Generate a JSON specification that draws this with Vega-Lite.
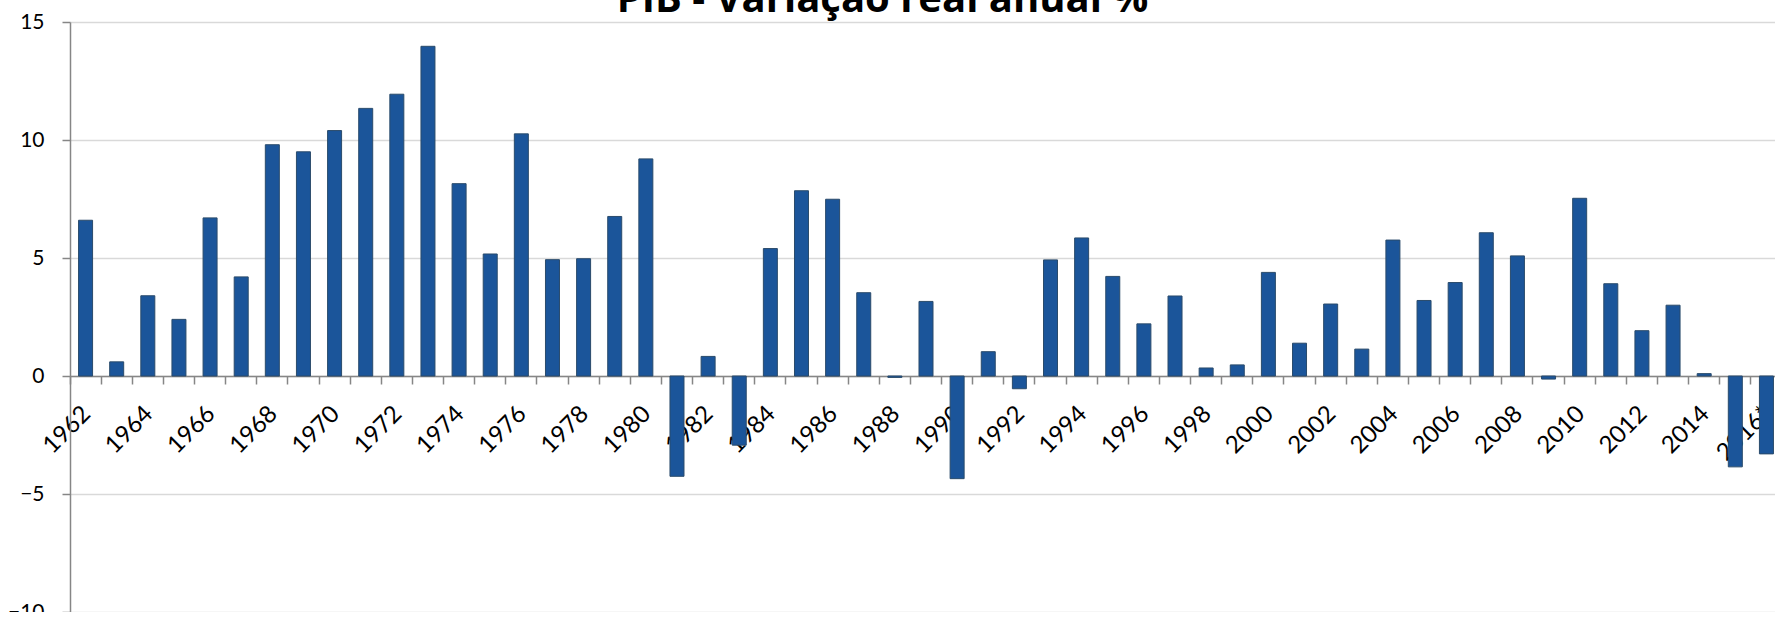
{
  "$schema": "https://vega.github.io/schema/vega-lite/v6.json",
  "autosize": {"type": "none"},
  "padding": {"left": 70, "top": 22, "right": 0, "bottom": 0},
  "width": 1705,
  "height": 590,
  "background": "white",
  "title": {
    "text": "PIB - Variação real anual %",
    "font": "Open Sans",
    "fontWeight": "bold",
    "fontSize": 40,
    "color": "#000000",
    "anchor": "middle",
    "frame": "group",
    "baseline": "alphabetic",
    "offset": -41,
    "dx": -40
  },
  "config": {
    "view": {"stroke": null},
    "axis": {"labelFont": "Lato", "labelColor": "#000000"}
  },
  "data": {
    "values": [
      {"ano": "1962", "pib": 6.6}, {"ano": "1963", "pib": 0.6}, {"ano": "1964", "pib": 3.4},
      {"ano": "1965", "pib": 2.4}, {"ano": "1966", "pib": 6.7}, {"ano": "1967", "pib": 4.2},
      {"ano": "1968", "pib": 9.8}, {"ano": "1969", "pib": 9.5}, {"ano": "1970", "pib": 10.4},
      {"ano": "1971", "pib": 11.34}, {"ano": "1972", "pib": 11.94}, {"ano": "1973", "pib": 13.97},
      {"ano": "1974", "pib": 8.15}, {"ano": "1975", "pib": 5.17}, {"ano": "1976", "pib": 10.26},
      {"ano": "1977", "pib": 4.93}, {"ano": "1978", "pib": 4.97}, {"ano": "1979", "pib": 6.76},
      {"ano": "1980", "pib": 9.2}, {"ano": "1981", "pib": -4.25}, {"ano": "1982", "pib": 0.83},
      {"ano": "1983", "pib": -2.93}, {"ano": "1984", "pib": 5.4}, {"ano": "1985", "pib": 7.85},
      {"ano": "1986", "pib": 7.49}, {"ano": "1987", "pib": 3.53}, {"ano": "1988", "pib": -0.06},
      {"ano": "1989", "pib": 3.16}, {"ano": "1990", "pib": -4.35}, {"ano": "1991", "pib": 1.03},
      {"ano": "1992", "pib": -0.54}, {"ano": "1993", "pib": 4.92}, {"ano": "1994", "pib": 5.85},
      {"ano": "1995", "pib": 4.22}, {"ano": "1996", "pib": 2.21}, {"ano": "1997", "pib": 3.39},
      {"ano": "1998", "pib": 0.34}, {"ano": "1999", "pib": 0.47}, {"ano": "2000", "pib": 4.39},
      {"ano": "2001", "pib": 1.39}, {"ano": "2002", "pib": 3.05}, {"ano": "2003", "pib": 1.14},
      {"ano": "2004", "pib": 5.76}, {"ano": "2005", "pib": 3.2}, {"ano": "2006", "pib": 3.96},
      {"ano": "2007", "pib": 6.07}, {"ano": "2008", "pib": 5.09}, {"ano": "2009", "pib": -0.13},
      {"ano": "2010", "pib": 7.53}, {"ano": "2011", "pib": 3.91}, {"ano": "2012", "pib": 1.92},
      {"ano": "2013", "pib": 3.0}, {"ano": "2014", "pib": 0.1}, {"ano": "2015", "pib": -3.85},
      {"ano": "2016*", "pib": -3.3}
    ]
  },
  "mark": {
    "type": "bar",
    "width": {"band": 0.45},
    "color": "#1B559A",
    "stroke": "#2A4B6B",
    "strokeWidth": 1
  },
  "encoding": {
    "x": {
      "field": "ano",
      "type": "nominal",
      "sort": null,
      "scale": {"range": [0, 1712], "paddingInner": 0, "paddingOuter": 0},
      "axis": {
        "title": null,
        "orient": "bottom",
        "offset": -236,
        "bandPosition": 0,
        "domainColor": "#868686",
        "domainWidth": 1.5,
        "tickColor": "#868686",
        "tickWidth": 1.5,
        "tickSize": 8,
        "labelAngle": -45,
        "labelAlign": "right",
        "labelBaseline": "middle",
        "labelFontSize": 24,
        "labelPadding": 26,
        "labelOffset": 1.4,
        "labelOverlap": false,
        "labelExpr": "parseInt(datum.label) % 2 == 0 ? datum.label : ''",
        "grid": false
      }
    },
    "y": {
      "field": "pib",
      "type": "quantitative",
      "scale": {"domain": [-10, 15], "nice": false, "zero": false},
      "axis": {
        "title": null,
        "values": [-10, -5, 0, 5, 10, 15],
        "domainColor": "#868686",
        "domainWidth": 1.5,
        "tickColor": "#868686",
        "tickWidth": 1.5,
        "tickSize": 8,
        "labelFontSize": 21,
        "labelPadding": 18,
        "grid": true,
        "gridColor": "#D9D9D9",
        "gridWidth": 1.5
      }
    }
  }
}
